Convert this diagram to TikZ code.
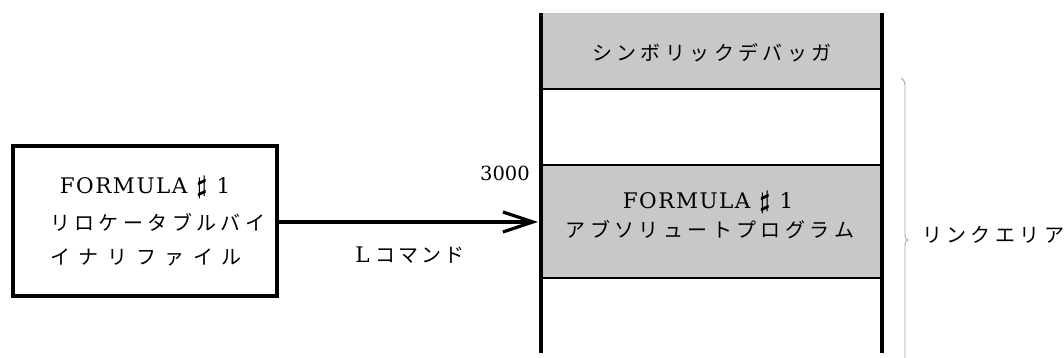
\documentclass[tikz,border=0pt]{standalone}
\usepackage{fontspec}
\newfontfamily\jp{Noto Sans CJK JP}
\newfontfamily\lat{DejaVu Serif}
\usetikzlibrary{arrows.meta}
\ExplSyntaxOn
\NewDocumentCommand\spc{O{4.4pt} m}{\tl_map_inline:nn {#2}{##1\hspace{#1}}\unskip}
\ExplSyntaxOff
\definecolor{fillgray}{RGB}{200,200,200}
\tikzset{
  jtext/.style={inner sep=0pt, font=\jp\fontsize{20}{24}\selectfont},
  ltext/.style={inner sep=0pt, font=\lat\fontsize{21.5}{26}\selectfont},
  thickline/.style={line width=3.2pt},
  midline/.style={line width=1.8pt},
}
\newcommand{\formula}{\spc[1.5pt]{FORMULA}\hspace{9pt}{\fontsize{27}{30}\selectfont\boldmath$\sharp$}\hspace{9pt}1}
\begin{document}
\begin{tikzpicture}[x=1pt,y=1pt]
\useasboundingbox (0,0) rectangle (1064,358);
% left box
\node[draw, thickline, minimum width=264pt, minimum height=150pt, inner sep=0pt] (box) at (145,137) {};
\node[ltext] (b1) at (145,171) {\formula};
\node[jtext, anchor=west] (b2) at (50,136) {\spc{リロケータブルバイ}};
\node[jtext, anchor=west] (b3) at (50,101) {\spc[8.6pt]{イナリファイル}};
% column
\fill[fillgray] (541,269) rectangle (882,345);
\fill[fillgray] (541,80) rectangle (882,193);
\coordinate (ctl) at (541,345);
\coordinate (cbl) at (541,5);
\coordinate (ctr) at (882,345);
\coordinate (cbr) at (882,5);
\draw[midline] (541,269) -- (882,269);
\draw[midline] (541,193) -- (882,193);
\draw[midline] (541,80) -- (882,80);
\draw[thickline] (ctl) -- (cbl);
\draw[thickline] (ctr) -- (cbr);
\node[jtext] (sym) at (712,305) {\spc{シンボリックデバッガ}};
\node[ltext] (f2) at (708,156) {\formula};
\node[jtext] (abs) at (710,128) {\spc{アブソリュートプログラム}};
\node[ltext, font=\lat\fontsize{19.5}{24}\selectfont] (addr) at (505,185) {3000};
% arrow
\coordinate (tip) at (538,136);
\draw[thickline, -{Straight Barb[length=30pt,width=20pt,line width=3.2pt]}] (box.east |- tip) -- (tip);
\node[anchor=center, inner sep=0pt] (lcmd) at (410,103) {{\lat\fontsize{21.5}{26}\selectfont L}\hspace{6pt}{\jp\fontsize{20}{24}\selectfont\spc[3pt]{コマンド}}};
% brace
\draw[gray!70, line width=0.9pt] (901,280) .. controls (904,278) and (905,276) .. (905,272)
  -- (905,124) .. controls (905,120) and (906,118) .. (908,118)
  .. controls (906,118) and (905,116) .. (905,112) -- (905,0);
\node[jtext, anchor=west] (link) at (922,123) {\spc{リンクエリア}};
\end{tikzpicture}
\end{document}
